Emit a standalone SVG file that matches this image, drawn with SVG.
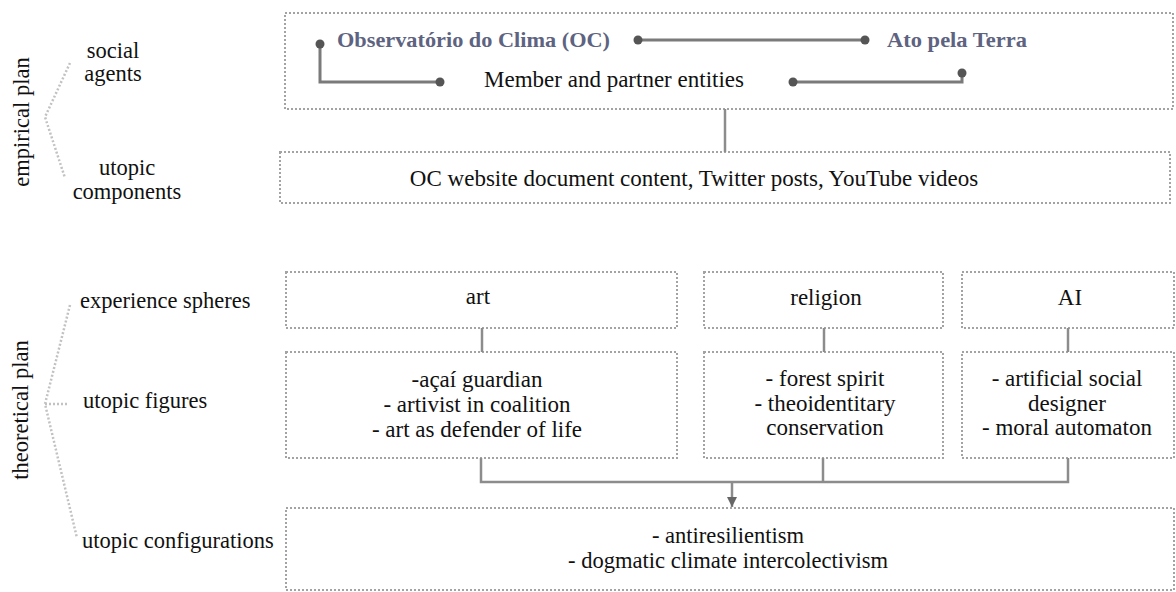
<svg xmlns="http://www.w3.org/2000/svg" width="1176" height="592" viewBox="0 0 1176 592">
<defs>
<style>
.box{fill:none;stroke:#a3a3a3;stroke-width:2;stroke-dasharray:2 2}
.br{fill:none;stroke:#c2c2c2;stroke-width:2.5;stroke-dasharray:2 2}
.t{font-family:'Liberation Serif',serif;font-size:23px;fill:#111}
.l{font-family:'Liberation Serif',serif;font-size:22.5px;fill:#111}
.c{text-anchor:middle}
.org{font-family:'Liberation Serif',serif;font-size:22px;font-weight:bold;fill:#5d6380}
.cf{font-family:'Liberation Serif',serif;font-size:24px;fill:#111;text-anchor:middle}
.con{fill:none;stroke:#8c8c8c;stroke-width:2.5}
.lk{fill:none;stroke:#7a7a7a;stroke-width:3}
.dot{fill:#555}
</style>
<marker id="ah" viewBox="0 0 10 10" refX="10" refY="5" markerWidth="10" markerHeight="10" markerUnits="userSpaceOnUse" orient="auto">
<path d="M0,0 L10,5 L0,10 Z" fill="#666"/>
</marker>
</defs>
<rect width="1176" height="592" fill="#fff"/>

<g id="labels">
<text class="l c" transform="translate(29,122) rotate(-90)">empirical plan</text>
<polyline class="br" points="70,63 45,117 65,178"/>
<text class="l c" x="113" y="58">social</text>
<text class="l c" x="113" y="81">agents</text>
<text class="l c" x="127" y="175">utopic</text>
<text class="l c" x="127" y="199">components</text>
<text class="l c" transform="translate(28,410) rotate(-90)">theoretical plan</text>
<polyline class="br" points="70,305 45,404 77,538"/>
<line class="br" x1="45" y1="404" x2="68" y2="404"/>
<text class="l" x="80" y="308">experience spheres</text>
<text class="l" x="83" y="408">utopic figures</text>
<text class="l" x="82" y="548">utopic configurations</text>
</g>

<g id="social-agents">
<rect class="box" x="285" y="13" width="888" height="96"/>
<text class="org" x="337" y="47" textLength="273" lengthAdjust="spacingAndGlyphs">Observatório do Clima (OC)</text>
<text class="org" x="887" y="47" textLength="140" lengthAdjust="spacingAndGlyphs">Ato pela Terra</text>
<text class="t c" x="614" y="87">Member and partner entities</text>
<polyline class="lk" points="320,44 320,82 440,82"/>
<line class="lk" x1="638" y1="40" x2="865" y2="40"/>
<polyline class="lk" points="793,82 962,82 962,73"/>
<circle class="dot" cx="320" cy="44" r="4.5"/>
<circle class="dot" cx="440" cy="82" r="4.5"/>
<circle class="dot" cx="638" cy="40" r="4.5"/>
<circle class="dot" cx="865" cy="40" r="4.5"/>
<circle class="dot" cx="793" cy="82" r="4.5"/>
<circle class="dot" cx="962" cy="73" r="4.5"/>
</g>

<g id="utopic-components">
<rect class="box" x="280" y="152" width="890" height="51"/>
<text class="t c" x="694" y="186">OC website document content, Twitter posts, YouTube videos</text>
</g>

<g id="sphere-art">
<rect class="box" x="286" y="272" width="391" height="56"/>
<text class="t c" x="478" y="304">art</text>
</g>
<g id="sphere-religion">
<rect class="box" x="704" y="272" width="239" height="56"/>
<text class="t c" x="826" y="305">religion</text>
</g>
<g id="sphere-ai">
<rect class="box" x="962" y="272" width="212" height="56"/>
<text class="t c" x="1070" y="305">AI</text>
</g>

<g id="figures-art">
<rect class="box" x="286" y="352" width="391" height="106"/>
<text class="t c" x="477" y="387">-açaí guardian</text>
<text class="t c" x="477" y="412">- artivist in coalition</text>
<text class="t c" x="477" y="437">- art as defender of life</text>
</g>
<g id="figures-religion">
<rect class="box" x="704" y="352" width="239" height="106"/>
<text class="t c" x="825" y="386">- forest spirit</text>
<text class="t c" x="825" y="411">- theoidentitary</text>
<text class="t c" x="825" y="435">conservation</text>
</g>
<g id="figures-ai">
<rect class="box" x="962" y="352" width="212" height="106"/>
<text class="t c" x="1067" y="386">- artificial social</text>
<text class="t c" x="1067" y="411">designer</text>
<text class="t c" x="1067" y="435">- moral automaton</text>
</g>

<g id="configurations">
<rect class="box" x="286" y="508" width="888" height="82"/>
<text class="cf" transform="translate(728,543) scale(0.94,1)">- antiresilientism</text>
<text class="cf" transform="translate(728,568) scale(0.94,1)">- dogmatic climate intercolectivism</text>
</g>

<g id="connectors">
<line class="con" x1="725" y1="109" x2="725" y2="152"/>
<line class="con" x1="482" y1="328" x2="482" y2="352"/>
<line class="con" x1="824" y1="328" x2="824" y2="352"/>
<line class="con" x1="1068" y1="328" x2="1068" y2="352"/>
<polyline class="con" points="481,458 481,482 1068,482 1068,458"/>
<line class="con" x1="823" y1="458" x2="823" y2="482"/>
<line class="con" x1="732" y1="482" x2="732" y2="507" marker-end="url(#ah)"/>
</g>
</svg>
